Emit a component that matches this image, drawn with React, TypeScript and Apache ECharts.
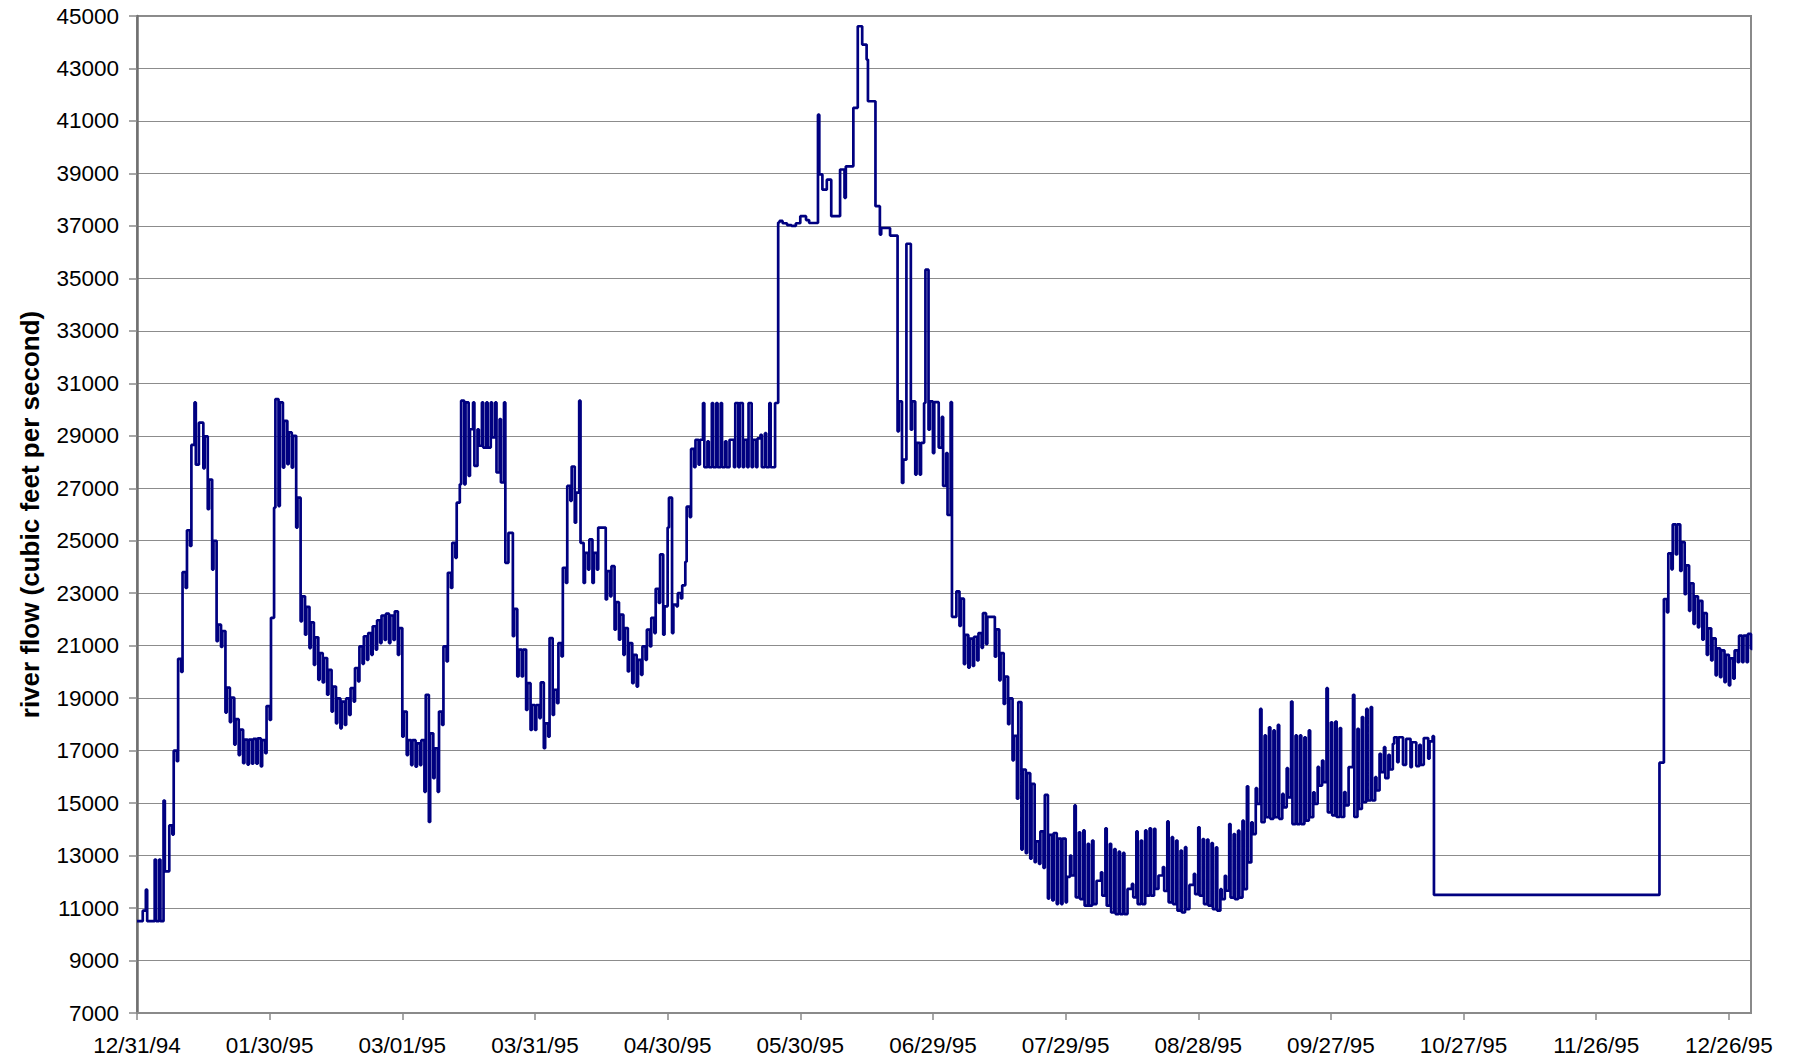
import React, { useEffect, useRef } from "react";
import * as echarts from "echarts";

// Day 0 = 12/31/94. Each day holds two readings: [short early value, main value of the day].
const BASE_DATE_UTC = Date.UTC(1994, 11, 31);

const yTicks = { min: 7000, max: 45000, step: 2000 };
const xTicks = { min: 0, max: 365, step: 30 };

const dec94 = [10500, 10500];
const jan = [
  10500, 10900, 11700, 10500, 10500, 10500, 12850, 10500, 12850, 10500,
  15100, 12400, 12400, 14150, 13800, 17000, 16600, 20500, 20000, 23800,
  23200, 25400, 24800, 28650, 30270, 27900, 29500, 29500, 27760, 28980,
  26200, 27330, 23900, 25000, 21170, 21800, 20950, 21560, 18450, 19400,
  18090, 19020, 17230, 18200, 16830, 17800, 16520, 17420, 16470, 17420,
  16500, 17450, 16500, 17470, 16400, 17400, 16900, 18700, 18170, 22060,
  26260, 30400,
];
const feb = [
  26320, 30270, 27790, 29570, 27920, 29130, 27790, 29000, 25500, 26640,
  21930, 22880, 21420, 22480, 20910, 21890, 20270, 21320, 19700, 20720,
  19600, 20530, 19130, 20080, 18490, 19440, 18040, 18990, 17850, 18870,
  17980, 18990, 18360, 19380, 18870, 20150, 19640, 20970, 20310, 21360,
  20460, 21480, 20650, 21740, 20850, 21970, 21100, 22150, 21220, 22220,
  21100, 22150, 21220, 22310, 20650, 21670,
];
const mar = [
  17530, 18490, 16830, 17400, 16450, 17400, 16390, 17280, 16450, 17400,
  15430, 19130, 14280, 17660, 15950, 17090, 15430, 18490, 17980, 20970,
  20400, 23780, 23200, 24920, 24350, 26450, 27150, 30340, 27150, 30270,
  27470, 29250, 30270, 27850, 29250, 28620, 30270, 28550, 30270, 28550,
  30270, 28940, 30270, 27600, 29640, 27220, 30270, 24160, 25300, 25300,
  21360, 22400, 19830, 20850, 19830, 20850, 18550, 19570, 17790, 18740,
  17790, 18740,
];
const apr = [
  18240, 19600, 17090, 18040, 17530, 21290, 18360, 19320, 18810, 21100,
  20590, 23970, 23390, 27090, 26520, 27830, 25690, 26830, 30340, 24920,
  23390, 24540, 23900, 25050, 23390, 24540, 23900, 25500, 25500, 25500,
  22760, 23840, 22880, 24030, 21610, 22660, 21230, 22180, 20650, 21670,
  20020, 21100, 19570, 20650, 19440, 20460, 19890, 20970, 20460, 21610,
  20970, 22060, 21480, 23170, 22630, 24480, 21420, 22500, 25500, 26640,
];
const may = [
  21480, 22570, 22500, 23000, 22800, 23300, 24200, 26300, 25900, 28500,
  27800, 28850, 27900, 28850, 30250, 27800, 28790, 27800, 30250, 27800,
  30250, 27800, 30250, 27800, 28790, 27800, 28850, 28850, 27800, 30250,
  27800, 30250, 27800, 28850, 27800, 30250, 27800, 28850, 27800, 28900,
  29040, 27800, 29100, 27800, 30250, 27800, 27800, 30250, 37130, 37190,
  37100, 37100, 37030, 37030, 37000, 37000, 37100, 37100, 37370, 37370,
  37370, 37220,
];
const jun = [
  37110, 37110, 37110, 37110, 41240, 38960, 38380, 38380, 38760, 38760,
  37370, 37370, 37370, 37370, 39150, 39150, 38070, 39270, 39270, 39270,
  41500, 41500, 44610, 44610, 43910, 43910, 43340, 41750, 41750, 41750,
  37750, 37750, 36670, 36920, 36920, 36920, 36920, 36630, 36630, 36630,
  29170, 30310, 27200, 28090, 36320, 36320, 29230, 30310, 27520, 28730,
  27520, 28730, 30250, 35330, 29230, 30310, 28340, 30280, 30280, 28550,
];
const jul = [
  29720, 27090, 28340, 25980, 30280, 22100, 22100, 23070, 21750, 22790,
  20300, 21410, 20160, 21270, 20230, 21340, 20440, 21480, 20920, 22240,
  21060, 22100, 22100, 22100, 20580, 21620, 19680, 20720, 18780, 19820,
  18010, 18990, 16630, 17560, 15170, 18850, 13230, 16280, 13090, 16140,
  12880, 15730, 12750, 13540, 12680, 13920, 12530, 15310, 11360, 13790,
  11290, 13860, 11150, 13650, 11150, 13650, 11220, 12190, 13000, 12240,
  14910, 11410,
];
const aug = [
  13890, 11340, 13960, 11090, 13450, 11090, 13570, 11150, 12040, 12040,
  12360, 11470, 14040, 11090, 13450, 10830, 13250, 10770, 13150, 10770,
  13100, 10770, 11730, 11730, 11920, 11410, 13920, 11150, 13570, 11150,
  13960, 11470, 14040, 11470, 14020, 11730, 12240, 12240, 12560, 11650,
  14300, 11220, 13700, 11150, 13570, 10900, 13190, 10830, 13320, 10960,
  11880, 11880, 12300, 11530, 14080, 11470, 13630, 11150, 13610, 11090,
  13480, 10960,
];
const sep = [
  13310, 10900, 11720, 11340, 12230, 11660, 14200, 11400, 13820, 11340,
  13950, 11400, 14330, 11720, 15640, 12740, 14270, 13820, 15570, 14970,
  18590, 14270, 17580, 14460, 17890, 14400, 17770, 14460, 17980, 14400,
  15350, 14840, 16330, 15220, 18870, 14200, 17580, 14200, 17580, 14200,
  17510, 14330, 17770, 14460, 15410, 14970, 16380, 15670, 16620, 15800,
  19380, 14650, 18080, 14530, 18110, 14470, 17860, 14470, 15420, 14910,
];
const oct = [
  16370, 16370, 19130, 14470, 17830, 14780, 18280, 15040, 18590, 15100,
  18660, 15100, 15990, 15480, 16880, 16180, 17130, 15950, 16840, 16280,
  17260, 17510, 16560, 17510, 17510, 16460, 17450, 17450, 16370, 17320,
  17320, 16410, 17220, 16460, 17480, 17480, 16690, 17350, 17550, 11500,
  11500, 11500, 11500, 11500, 11500, 11500, 11500, 11500, 11500, 11500,
  11500, 11500, 11500, 11500, 11500, 11500, 11500, 11500, 11500, 11500,
  11500, 11500,
];
const nov = [
  11500, 11500, 11500, 11500, 11500, 11500, 11500, 11500, 11500, 11500,
  11500, 11500, 11500, 11500, 11500, 11500, 11500, 11500, 11500, 11500,
  11500, 11500, 11500, 11500, 11500, 11500, 11500, 11500, 11500, 11500,
  11500, 11500, 11500, 11500, 11500, 11500, 11500, 11500, 11500, 11500,
  11500, 11500, 11500, 11500, 11500, 11500, 11500, 11500, 11500, 11500,
  11500, 11500, 11500, 11500, 11500, 11500, 11500, 11500, 11500, 11500,
];
const dec = [
  11500, 11500, 11500, 11500, 11500, 11500, 11500, 11500, 11500, 11500,
  11500, 11500, 11500, 11500, 11500, 11500, 11500, 11500, 11500, 16540,
  16540, 22780, 22270, 24520, 23910, 25620, 24480, 25620, 23850, 24950,
  22960, 24060, 22330, 23380, 21830, 22880, 21700, 22710, 21230, 22240,
  20650, 21660, 20440, 21280, 19870, 20900, 19800, 20820, 19610, 20650,
  19490, 20520, 19740, 20820, 20370, 21380, 20370, 21380, 20370, 21450,
  20880, 20880,
];

const months = [dec94, jan, feb, mar, apr, may, jun, jul, aug, sep, oct, nov, dec];
const SHORT_PART = 0.3; // fraction of a day held by the first reading

function buildSeries(): number[][] {
  const pts: number[][] = [];
  let day = 0;
  for (const m of months) {
    for (let i = 0; i + 1 < m.length; i += 2) {
      pts.push([day, m[i]]);
      pts.push([day + SHORT_PART, m[i + 1]]);
      day += 1;
    }
  }
  return pts;
}

function fmtDay(v: number): string {
  if (Math.abs(v % xTicks.step) > 1e-6) return "";
  const d = new Date(BASE_DATE_UTC + v * 86400000);
  const mm = String(d.getUTCMonth() + 1).padStart(2, "0");
  const dd = String(d.getUTCDate()).padStart(2, "0");
  const yy = String(d.getUTCFullYear() % 100).padStart(2, "0");
  return `${mm}/${dd}/${yy}`;
}

const FONT = "'Liberation Sans', Arial, Helvetica, sans-serif";

export default function App() {
  const ref = useRef<HTMLDivElement>(null);
  useEffect(() => {
    if (!ref.current) return;
    const chart = echarts.init(ref.current, undefined, { renderer: "svg" });
    chart.setOption({
      animation: false,
      backgroundColor: "#ffffff",
      grid: {
        left: 137,
        right: 42,
        top: 16,
        bottom: 51,
        show: true,
        borderColor: "#8a8a8a",
        borderWidth: 2,
      },
      xAxis: {
        type: "value",
        min: xTicks.min,
        max: xTicks.max,
        interval: xTicks.step,
        axisLine: { show: true, lineStyle: { color: "#8a8a8a", width: 2 } },
        axisTick: { show: true, length: 7, lineStyle: { color: "#8a8a8a", width: 1.5 } },
        splitLine: { show: false },
        axisLabel: {
          formatter: fmtDay,
          color: "#000",
          fontSize: 22.5,
          fontFamily: FONT,
          margin: 21,
          showMaxLabel: false,
        },
      },
      yAxis: {
        type: "value",
        min: yTicks.min,
        max: yTicks.max,
        interval: yTicks.step,
        name: "river flow (cubic feet per second)",
        nameLocation: "middle",
        nameGap: 94,
        nameTextStyle: {
          color: "#000",
          fontSize: 26,
          fontWeight: "bold",
          fontFamily: FONT,
        },
        axisLine: { show: true, lineStyle: { color: "#707070", width: 2.5 } },
        axisTick: { show: true, length: 8, lineStyle: { color: "#8a8a8a", width: 1.5 } },
        splitLine: { show: true, lineStyle: { color: "#8c8c8c", width: 1 } },
        axisLabel: {
          formatter: (v: number) => String(v),
          color: "#000",
          fontSize: 22.5,
          fontFamily: FONT,
          margin: 18,
        },
      },
      series: [
        {
          type: "line",
          data: buildSeries(),
          step: "end",
          showSymbol: false,
          symbol: "none",
          lineStyle: { color: "#000080", width: 2.7 },
          clip: true,
        },
      ],
    });
    return () => chart.dispose();
  }, []);
  return (
    <div
      ref={ref}
      style={{ position: "fixed", left: 0, top: 0, width: "1793px", height: "1064px" }}
    />
  );
}
